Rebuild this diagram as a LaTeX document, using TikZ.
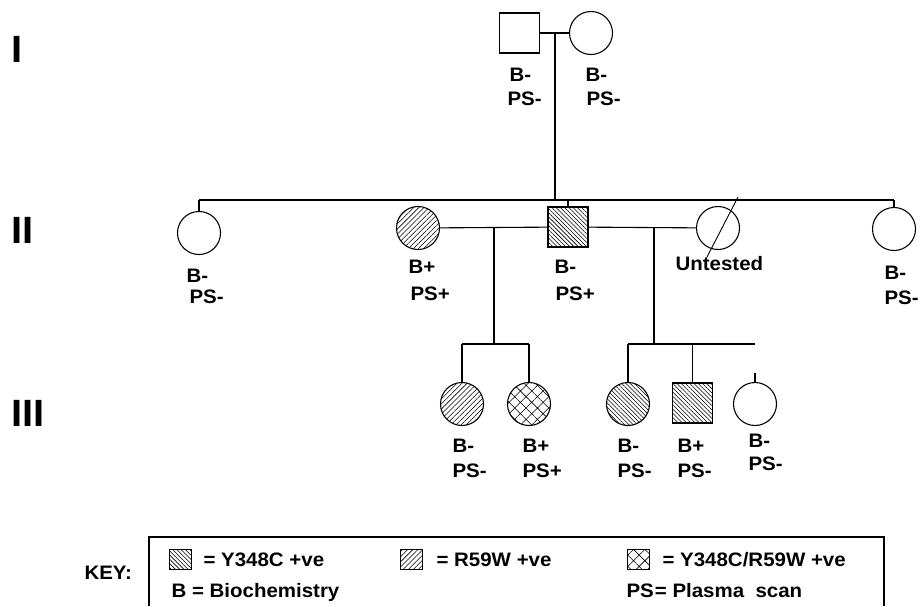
\documentclass[tikz,border=0pt]{standalone}
\usepackage{fontspec}
\setmainfont{Liberation Sans}[FakeStretch=1.05]
\usetikzlibrary{patterns.meta}
\begin{document}
\begin{tikzpicture}[x=1pt,y=-1pt,line width=1.1pt,
  male/.style={draw,rectangle,minimum size=40pt,inner sep=0pt},
  female/.style={draw,circle,minimum size=43pt,inner sep=0pt},
  yc/.style={pattern={Lines[angle=-45,distance=3pt,line width=0.55pt]}},
  rw/.style={pattern={Lines[angle=45,distance=3.6pt,line width=0.55pt]}},
  both/.style={pattern={Hatch[angle=45,distance=8pt,line width=0.55pt]}},
  lab/.style={anchor=base west,inner sep=0pt,font=\fontsize{19.5}{21}\selectfont\bfseries},
  gen/.style={anchor=base west,inner sep=0pt,font=\fontsize{38}{40}\selectfont\bfseries},
  swatch/.style={draw,line width=0.5pt,minimum width=22pt,minimum height=20pt,inner sep=0pt},
]
\useasboundingbox (0,0) rectangle (921,606);

% generation numerals
\node[gen] (gI) at (11,62) {I};
\node[gen] (gII) at (11,243) {II};
\node[gen] (gIII) at (11,426) {III};

% generation I
\node[male] (I1) at (519.5,33) {};
\node[female] (I2) at (591,33) {};
\draw (I1) -- (I2);
\coordinate (d1) at (555,33);
\coordinate (s1) at (555,200);
\draw (d1) -- (s1);
\node[lab] (I1b) at (509,81) {B-};
\node[lab] (I1p) at (507,105) {PS-};
\node[lab] (I2b) at (585,81) {B-};
\node[lab] (I2p) at (586,105) {PS-};

% sibship line II
\coordinate (sl) at (199,200);
\coordinate (sm) at (568,200);
\coordinate (sr) at (894,200);
\draw (sl) -- (sr);

% generation II
\node[female] (II1) at (199,233) {};
\node[female,rw] (II2) at (418,228) {};
\node[male,yc] (II3) at (568,227) {};
\node[female] (II4) at (718,228) {};
\node[female] (II5) at (894,229) {};
\draw (sl) -- (II1);
\draw (sm) -- (II3);
\draw (sr) -- (II5);
\draw (II2) -- (II3);
\draw (II3) -- (II4);
\coordinate (u1) at (707,257);
\coordinate (u2) at (738,197);
\draw[line width=0.9pt] (u1) -- (u2);

\node[lab] (II1b) at (186,282) {B-};
\node[lab] (II1p) at (189,303) {PS-};
\node[lab] (II2b) at (408,273) {B+};
\node[lab] (II2p) at (410,300) {PS+};
\node[lab] (II3b) at (554,273) {B-};
\node[lab] (II3p) at (555,300) {PS+};
\node[lab] (II4u) at (675,270) {Untested};
\node[lab] (II5b) at (884,279) {B-};
\node[lab] (II5p) at (884,304) {PS-};

% children lines
\coordinate (c1) at (494,227);
\coordinate (c1b) at (494,344);
\coordinate (c2) at (654,227);
\coordinate (c2b) at (654,344);
\draw (c1) -- (c1b);
\draw (c2) -- (c2b);

% generation III
\node[female,rw] (III1) at (462,404) {};
\node[female,both] (III2) at (529,404) {};
\node[female,yc] (III3) at (628,404) {};
\node[male,yc] (III4) at (692.5,403) {};
\node[female] (III5) at (755,404) {};
\coordinate (t1) at (462,344);
\coordinate (t2) at (529,344);
\coordinate (t3) at (628,344);
\coordinate (t4) at (692.5,344);
\coordinate (t5) at (755,344);
\coordinate (t5b) at (755,373);
\draw (t1) -- (t2);
\draw (t3) -- (t5);
\draw (t1) -- (III1);
\draw (t2) -- (III2);
\draw (t3) -- (III3);
\draw (t4) -- (III4);
\draw (t5b) -- (III5);

\node[lab] (III1b) at (452,452) {B-};
\node[lab] (III1p) at (452,477) {PS-};
\node[lab] (III2b) at (522,452) {B+};
\node[lab] (III2p) at (522,477) {PS+};
\node[lab] (III3b) at (617,452) {B-};
\node[lab] (III3p) at (617,477) {PS-};
\node[lab] (III4b) at (677,452) {B+};
\node[lab] (III4p) at (677,477) {PS-};
\node[lab] (III5b) at (748,447) {B-};
\node[lab] (III5p) at (748,470) {PS-};

% key
\coordinate (k1) at (149,606);
\coordinate (k2) at (149,537);
\coordinate (k3) at (884,537);
\coordinate (k4) at (884,606);
\draw (k1) -- (k2) -- (k3) -- (k4);
\node[lab] (key) at (84,579) {KEY:};
\node[swatch,yc] (sw1) at (180.5,559) {};
\node[swatch,rw] (sw2) at (411.5,559) {};
\node[swatch,both] (sw3) at (638,559) {};
\node[lab] (kt1) at (203,566) {= Y348C +ve};
\node[lab] (kt2) at (436,566) {= R59W +ve};
\node[lab] (kt3) at (662,566) {= Y348C/R59W +ve};
\node[lab] (kt4) at (171,597) {B = Biochemistry};
\node[lab] (kt5) at (626,597) {PS\kern1pt= Plasma\ \ scan};
\end{tikzpicture}
\end{document}
